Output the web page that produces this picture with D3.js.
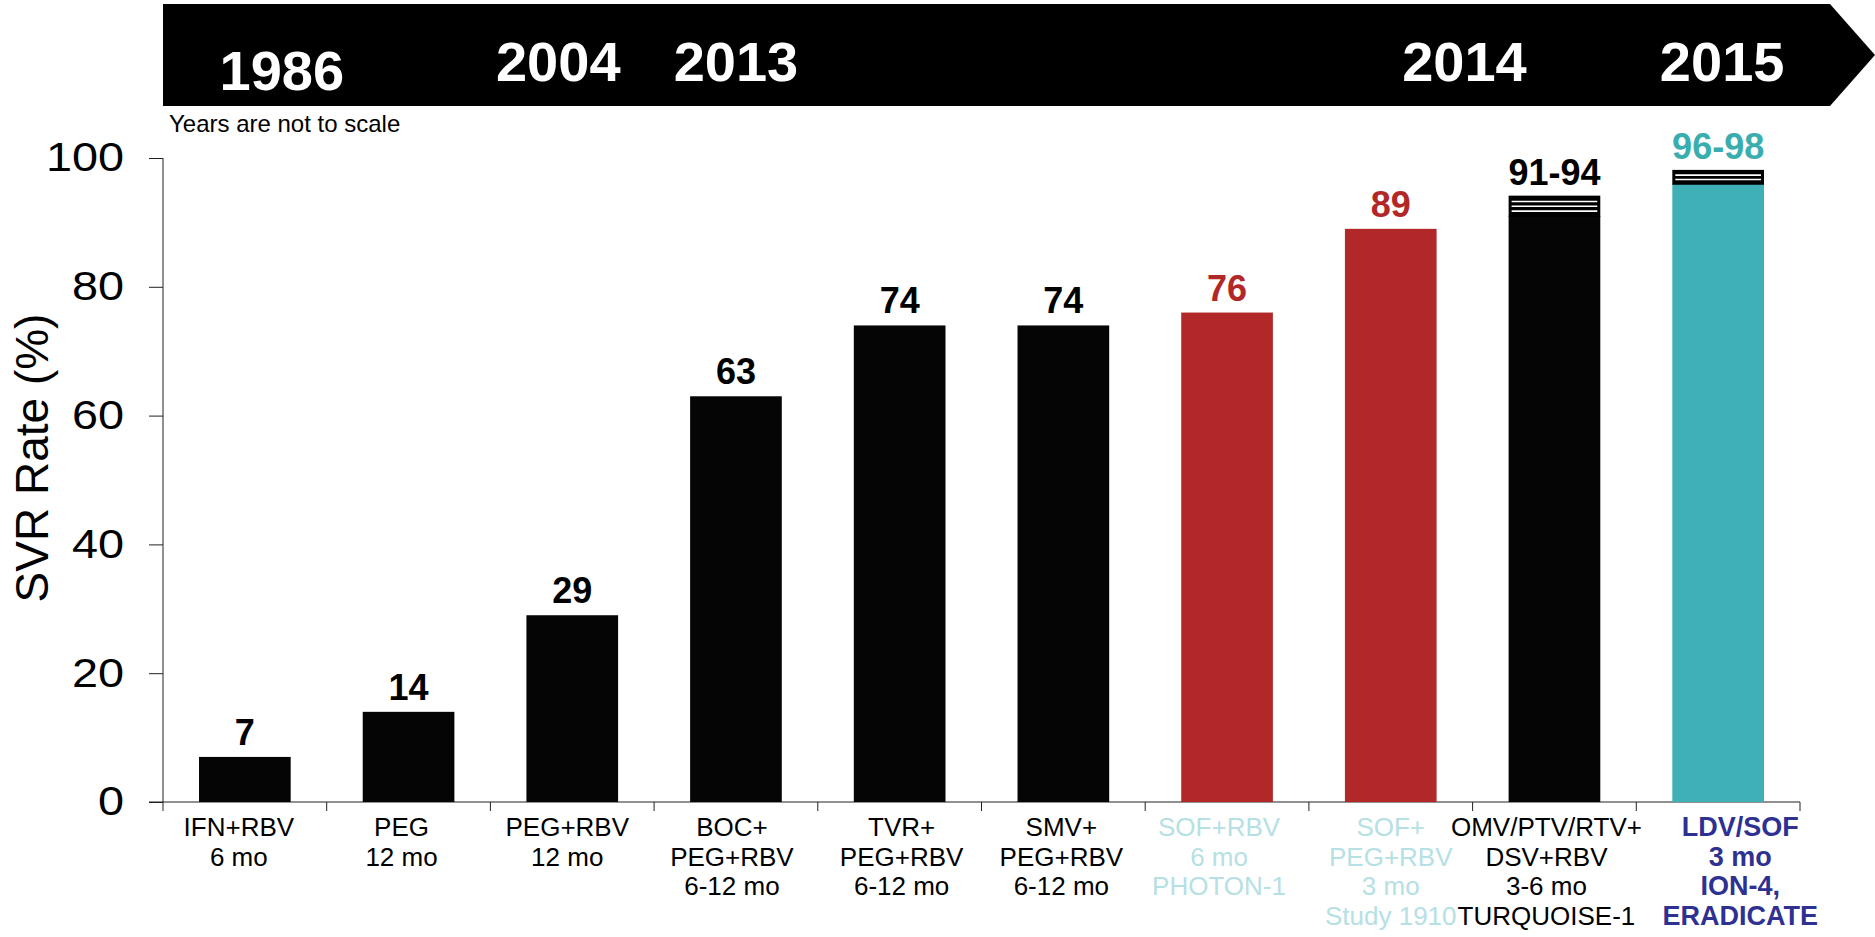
<!DOCTYPE html>
<html>
<head>
<meta charset="utf-8">
<script src="https://cdn.jsdelivr.net/npm/d3@7"></script>
<style>
  body { margin: 0; background: #fff; }
  text { font-family: "Liberation Sans", Arial, sans-serif; }
</style>
</head>
<body>
<div id="chart"></div>
<script>
// Data
const regimens = [
  ["IFN+RBV", "6 mo"],
  ["PEG", "12 mo"],
  ["PEG+RBV", "12 mo"],
  ["BOC+", "PEG+RBV", "6-12 mo"],
  ["TVR+", "PEG+RBV", "6-12 mo"],
  ["SMV+", "PEG+RBV", "6-12 mo"],
  ["SOF+RBV", "6 mo", "PHOTON-1"],
  ["SOF+", "PEG+RBV", "3 mo", "Study 1910"],
  ["OMV/PTV/RTV+", "DSV+RBV", "3-6 mo", "TURQUOISE-1"],
  ["LDV/SOF", "3 mo", "ION-4,", "ERADICATE"]
];
const svrLow = [7, 14, 29, 63, 74, 74, 76, 89, 91, 96];
const svrHigh = [7, 14, 29, 63, 74, 74, 76, 89, 94, 98];
const valueLabels = ["7", "14", "29", "63", "74", "74", "76", "89", "91-94", "96-98"];
const groups = ["old", "old", "old", "old", "old", "old", "sof", "sof", "old", "ldv"];
const years = ["1986", "2004", "2013", "2014", "2015"];
const yTicks = [0, 20, 40, 60, 80, 100];

// Layout
const w = 1875, h = 937;
const p = { left: 163, right: 1800, top: 158, bottom: 802 };
const yearPos = [
  { cat: 0, dx: 37, base: 90 },
  { cat: 2, dx: -14, base: 81 },
  { cat: 3, dx: 0, base: 81 },
  { cat: 8, dx: -90, base: 81 },
  { cat: 9, dx: 4, base: 81 }
];
const labelDx = [-6, -7, -5, -4, 2, -2, -8, 0, -8, 22];
const barColor = { old: "#050505", sof: "#b22828", ldv: "#3fb1b6" };
const valueColor = { old: "#000", sof: "#b22828", ldv: "#3aadaf" };
const catColor = { old: "#000", sof: "#b5e0e4", ldv: "#2e3192" };

const cats = regimens.map((d, i) => i);

// Scales
const xScale = d3.scaleBand().domain(cats).range([p.left, p.right])
  .paddingInner(0.44).paddingOuter(0.22);
const yScale = d3.scaleLinear().domain([0, 100]).range([p.bottom, p.top]);

const svg = d3.select("#chart").append("svg")
  .attr("width", w).attr("height", h);

// Timeline banner
const bTop = 4, bBot = 106, bShoulder = 1830, bTip = 1875;
svg.append("path")
  .attr("d", `M${p.left},${bTop}L${bShoulder},${bTop}L${bTip},${(bTop + bBot) / 2}L${bShoulder},${bBot}L${p.left},${bBot}Z`)
  .attr("fill", "#000");
svg.append("g").selectAll("text")
  .data(years)
  .join("text")
  .attr("x", (d, i) => xScale(yearPos[i].cat) + xScale.bandwidth() / 2 + yearPos[i].dx)
  .attr("y", (d, i) => yearPos[i].base)
  .attr("text-anchor", "middle")
  .attr("font-size", 56)
  .attr("font-weight", "bold")
  .attr("fill", "#fff")
  .text(d => d);
svg.append("text")
  .attr("x", 169).attr("y", 132)
  .attr("font-size", 24)
  .text("Years are not to scale");

// Y axis
const stretch = 1.17;
const yAxis = d3.axisLeft(yScale).tickValues(yTicks).tickSize(14).tickPadding(25);
const gy = svg.append("g")
  .attr("transform", `translate(${p.left},0)`)
  .call(yAxis);
gy.select(".domain").attr("d", `M0,${p.top}V${p.bottom}`).attr("stroke", "#222");
gy.selectAll(".tick line").attr("stroke", "#222");
gy.selectAll(".tick text")
  .attr("font-family", "'Liberation Sans', Arial, sans-serif")
  .attr("font-size", 40)
  .attr("fill", "#000")
  .attr("x", -39 / stretch)
  .attr("transform", `scale(${stretch},1)`);

svg.append("text")
  .attr("transform", `translate(48,458) rotate(-90)`)
  .attr("text-anchor", "middle")
  .attr("font-size", 46)
  .text("SVR Rate (%)");

// X axis
const step = xScale.step();
const xBounds = [p.left].concat(cats.map(i => xScale(i) + xScale.bandwidth() + step * 0.22));
const gx = svg.append("g");
gx.append("line")
  .attr("x1", p.left - 14).attr("x2", p.right)
  .attr("y1", p.bottom).attr("y2", p.bottom)
  .attr("stroke", "#222");
gx.selectAll("line.tk")
  .data(xBounds)
  .join("line")
  .attr("class", "tk")
  .attr("x1", d => d).attr("x2", d => d)
  .attr("y1", p.bottom).attr("y2", p.bottom + 9)
  .attr("stroke", "#222");

// Category labels
const lab = svg.append("g").selectAll("text")
  .data(regimens)
  .join("text")
  .attr("text-anchor", "middle")
  .attr("font-size", (d, i) => groups[i] === "ldv" ? 27 : 26)
  .attr("font-weight", (d, i) => groups[i] === "ldv" ? "bold" : "normal")
  .attr("fill", (d, i) => catColor[groups[i]]);
lab.selectAll("tspan")
  .data((d, i) => d.map(t => ({ t, i })))
  .join("tspan")
  .attr("x", d => xScale(d.i) + xScale.bandwidth() / 2 + labelDx[d.i])
  .attr("y", (d, j) => 836 + j * 29.5)
  .text(d => d.t);

// Bars
svg.append("g").selectAll("rect")
  .data(cats)
  .join("rect")
  .attr("x", i => xScale(i))
  .attr("y", i => yScale(svrLow[i]))
  .attr("width", xScale.bandwidth())
  .attr("height", i => yScale(0) - yScale(svrLow[i]))
  .attr("fill", i => barColor[groups[i]]);

// Range caps (striped)
const ranged = cats.filter(i => svrHigh[i] > svrLow[i]);
const caps = svg.append("g").selectAll("g")
  .data(ranged)
  .join("g");
caps.append("rect")
  .attr("x", i => xScale(i) + 1)
  .attr("y", i => yScale(svrHigh[i]))
  .attr("width", xScale.bandwidth() - 2)
  .attr("height", i => yScale(svrLow[i]) - yScale(svrHigh[i]))
  .attr("fill", "#000")
  .attr("stroke", "#000")
  .attr("stroke-width", 2);
caps.each(function (i) {
  const top = yScale(svrHigh[i]), bot = yScale(svrLow[i]);
  const n = Math.round((bot - top) / 4.5) - 1;
  for (let k = 1; k <= n; k++) {
    const yy = top + (bot - top) * k / (n + 1);
    d3.select(this).append("line")
      .attr("x1", xScale(i) + 3).attr("x2", xScale(i) + xScale.bandwidth() - 3)
      .attr("y1", yy).attr("y2", yy)
      .attr("stroke", "#fff").attr("stroke-width", 1.6);
  }
});

// Value labels
svg.append("g").selectAll("text")
  .data(cats)
  .join("text")
  .attr("x", i => xScale(i) + xScale.bandwidth() / 2)
  .attr("y", i => yScale(svrHigh[i]) - 12)
  .attr("text-anchor", "middle")
  .attr("font-size", 36)
  .attr("font-weight", "bold")
  .attr("fill", i => valueColor[groups[i]])
  .text(i => valueLabels[i]);
</script>
</body>
</html>
